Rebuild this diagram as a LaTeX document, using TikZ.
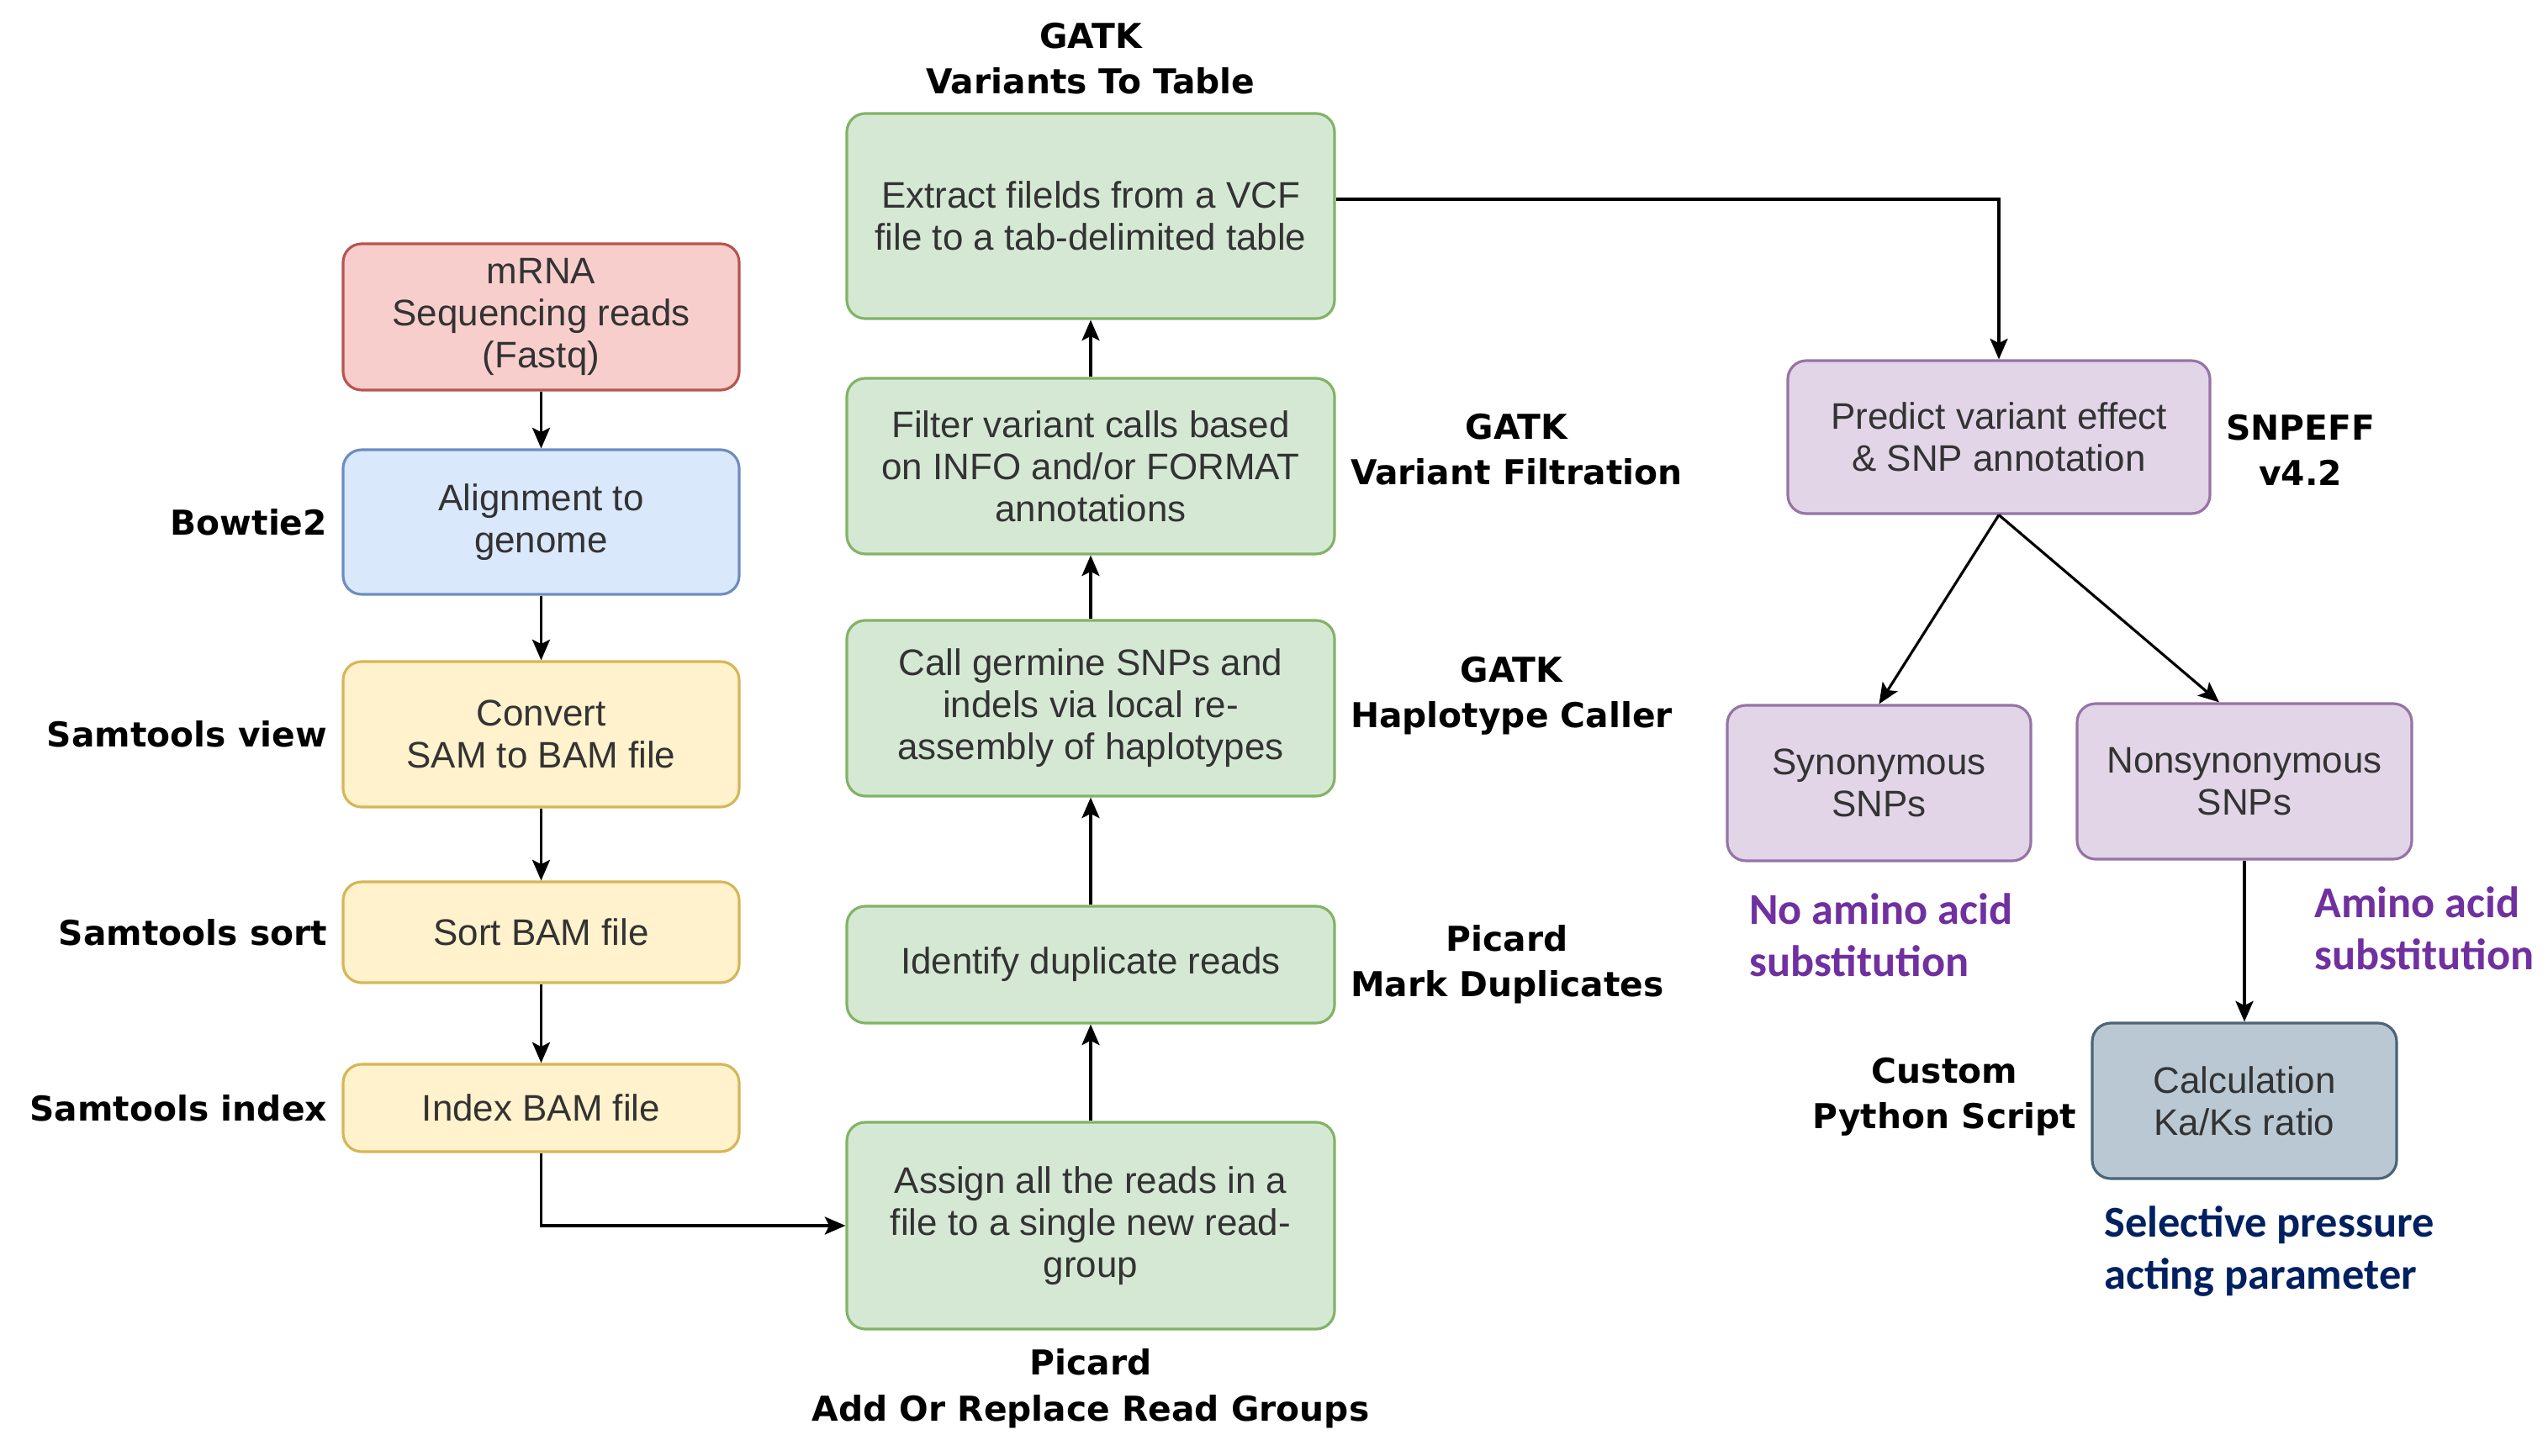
\documentclass[tikz,border=0pt]{standalone}
\usepackage{fontspec}
\setmainfont{Liberation Sans}
\newfontfamily\toolfont{DejaVu Sans}
\newfontfamily\notefont{Carlito}
\usepackage{xcolor}
\usetikzlibrary{positioning}
\usetikzlibrary{arrows.meta}
\definecolor{redfill}{HTML}{F8CECC}
\definecolor{redline}{HTML}{B85450}
\definecolor{bluefill}{HTML}{DAE8FC}
\definecolor{blueline}{HTML}{6C8EBF}
\definecolor{yellowfill}{HTML}{FFF2CC}
\definecolor{yellowline}{HTML}{D6B656}
\definecolor{greenfill}{HTML}{D5E8D4}
\definecolor{greenline}{HTML}{82B366}
\definecolor{purplefill}{HTML}{E1D5E7}
\definecolor{purpleline}{HTML}{9673A6}
\definecolor{greyfill}{HTML}{BAC8D3}
\definecolor{greyline}{HTML}{4A6478}
\definecolor{boxtext}{HTML}{333333}
\definecolor{notepurple}{HTML}{7030A0}
\definecolor{notenavy}{HTML}{002060}

\begin{document}
\begin{tikzpicture}[>={Stealth[length=7pt,width=6pt,inset=1.5pt]},
    box/.style={draw, rounded corners=2.2mm, line width=0.9pt, align=center, text=boxtext, font=\fontsize{12.5}{14.2}\selectfont},
    redbox/.style={box, fill=redfill, draw=redline},
    bluebox/.style={box, fill=bluefill, draw=blueline},
    yellowbox/.style={box, fill=yellowfill, draw=yellowline},
    greenbox/.style={box, fill=greenfill, draw=greenline},
    purplebox/.style={box, fill=purplefill, draw=purpleline},
    greybox/.style={box, fill=greyfill, draw=greyline},
    tool/.style={align=center, font=\toolfont\bfseries\fontsize{11.6}{15.4}\selectfont},
    note/.style={align=left, font=\notefont\bfseries\fontsize{14.9}{17.6}\selectfont}]
    \useasboundingbox (0,0) rectangle (30.3,-17.32);

    \node[redbox, minimum width=4.71cm, minimum height=1.74cm] (mrna) at (6.435,-3.77) {mRNA\\Sequencing reads\\(Fastq)};
    \node[bluebox, minimum width=4.71cm, minimum height=1.72cm] (align) at (6.435,-6.21) {Alignment to\\genome};
    \node[yellowbox, minimum width=4.71cm, minimum height=1.73cm] (convert) at (6.435,-8.735) {Convert\\SAM to BAM file};
    \node[yellowbox, minimum width=4.71cm, minimum height=1.2cm] (sort) at (6.435,-11.09) {Sort BAM file};
    \node[yellowbox, minimum width=4.71cm, minimum height=1.04cm] (index) at (6.435,-13.18) {Index BAM file};

    \node[greenbox, minimum width=5.8cm, minimum height=2.44cm] (extract) at (12.97,-2.57) {Extract filelds from a VCF\\file to a tab-delimited table};
    \node[greenbox, minimum width=5.8cm, minimum height=2.09cm] (filter) at (12.97,-5.545) {Filter variant calls based\\on INFO and/or FORMAT\\annotations};
    \node[greenbox, minimum width=5.8cm, minimum height=2.09cm] (call) at (12.97,-8.425) {Call germine SNPs and\\indels via local re-\\assembly of haplotypes};
    \node[greenbox, minimum width=5.8cm, minimum height=1.39cm] (dups) at (12.97,-11.475) {Identify duplicate reads};
    \node[greenbox, minimum width=5.8cm, minimum height=2.46cm] (assign) at (12.97,-14.58) {Assign all the reads in a\\file to a single new read-\\group};

    \node[purplebox, minimum width=5.02cm, minimum height=1.82cm] (predict) at (23.77,-5.2) {Predict variant effect\\\& SNP annotation};
    \node[purplebox, minimum width=3.61cm, minimum height=1.85cm] (syn) at (22.345,-9.315) {Synonymous\\SNPs};
    \node[purplebox, minimum width=3.98cm, minimum height=1.85cm] (nonsyn) at (26.69,-9.295) {Nonsynonymous\\SNPs};
    \node[greybox, minimum width=3.62cm, minimum height=1.85cm] (calc) at (26.69,-13.095) {Calculation\\Ka/Ks ratio};

    \node[tool] (vtt) at (12.97,-0.70) {GATK\\Variants To Table};
    \node[tool, left=0.5mm of align] (bowtie) {Bowtie2};
    \node[tool, left=0.5mm of convert] (view) {Samtools view};
    \node[tool, left=0.5mm of sort] (sorttool) {Samtools sort};
    \node[tool, left=0.5mm of index] (indextool) {Samtools index};
    \node[tool, right=0.5mm of filter, yshift=2mm] (vf) {GATK\\Variant Filtration};
    \node[tool, right=0.5mm of call, yshift=1.5mm] (hc) {GATK\\Haplotype Caller};
    \node[tool, right=0.5mm of dups] (md) {Picard\\Mark Duplicates};
    \node[tool, below=1mm of assign] (arrg) {Picard\\Add Or Replace Read Groups};
    \node[tool, right=0.5mm of predict, yshift=-1.5mm] (snpeff) {SNPEFF\\v4.2};
    \node[tool, left=0.5mm of calc, yshift=0.5mm] (python) {Custom\\Python Script};

    \node[note, text=notepurple, anchor=north west] (noaa) at (20.68,-10.50) {No amino acid\\substitution};
    \node[note, text=notepurple, anchor=north west] (aa) at (27.40,-10.42) {Amino acid\\substitution};
    \node[note, text=notenavy, anchor=north west] (sel) at (24.90,-14.22) {Selective pressure\\acting parameter};

    \draw[->, line width=0.9pt] (mrna) -- (align);
    \draw[->, line width=0.9pt] (align) -- (convert);
    \draw[->, line width=0.9pt] (convert) -- (sort);
    \draw[->, line width=0.9pt] (sort) -- (index);
    \draw[->, line width=0.9pt] (index.south) |- (assign.west);
    \draw[->, line width=0.9pt] (assign) -- (dups);
    \draw[->, line width=0.9pt] (dups) -- (call);
    \draw[->, line width=0.9pt] (call) -- (filter);
    \draw[->, line width=0.9pt] (filter) -- (extract);
    \draw[->, line width=0.9pt] ([yshift=2mm]extract.east) -| (predict.north);
    \draw[->, line width=0.9pt] (predict.south) -- (syn.north);
    \draw[->, line width=0.9pt] (predict.south) -- ([xshift=-3mm]nonsyn.north);
    \draw[->, line width=0.9pt] (nonsyn) -- (calc);
\end{tikzpicture}
\end{document}
